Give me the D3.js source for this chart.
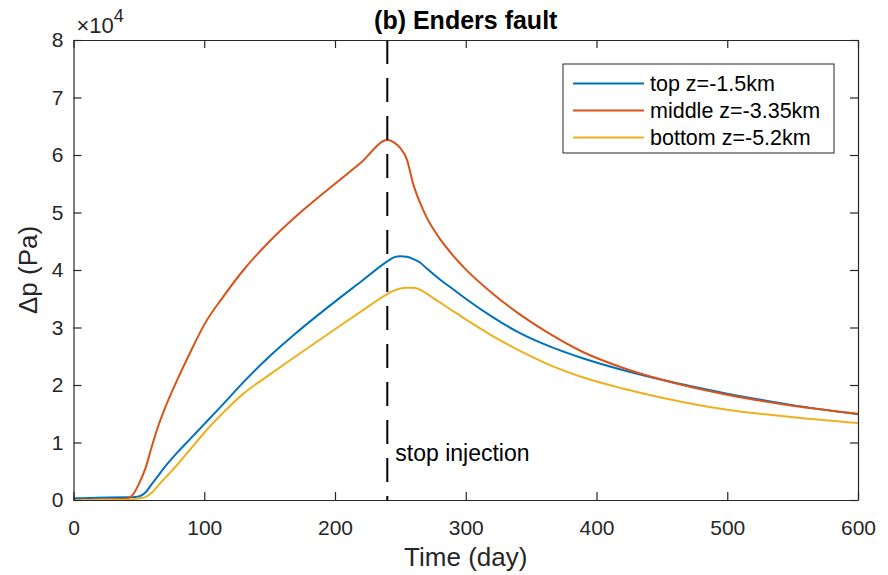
<!DOCTYPE html>
<html>
<head>
<meta charset="utf-8">
<script src="https://cdnjs.cloudflare.com/ajax/libs/d3/7.8.5/d3.min.js"></script>
<style>
    html, body { margin:0; padding:0; background:#fff; }
    svg text { font-family: "Liberation Sans", Arial, Helvetica, sans-serif; fill:#262626; }
</style>
</head>
<body>
<svg id="chart" width="888" height="575"></svg>
<script>
// days sampled along the curves
var days = [0, 40, 45, 50, 55, 60, 65, 70, 80, 90, 100, 115, 130, 150, 170, 200, 220, 240,
            245, 250, 255, 260, 265, 270, 280, 290, 300, 320, 340, 360, 390, 420, 450, 500, 550, 600];

// pressure change in Pa
var topZ = [300, 500, 500, 600, 1300, 2800, 4300, 5800, 8400, 10800, 13200, 16800, 20500, 25000, 29000, 34500, 38000, 41500,
            42200, 42400, 42300, 41900, 41300, 40300, 38400, 36700, 35000, 31900, 29200, 27100, 24600, 22600, 20900, 18500, 16500, 14900];
var middleZ = [0, 200, 800, 2800, 5500, 9400, 13000, 16000, 21200, 26000, 30500, 35500, 40000, 45000, 49300, 55000, 58700, 62600,
               62200, 61200, 59200, 54800, 51700, 49200, 45500, 42600, 40100, 36000, 32500, 29500, 25700, 23000, 20900, 18300, 16400, 15000];
var bottomZ = [0, 0, 100, 300, 500, 1300, 2600, 3800, 6300, 9000, 11700, 15300, 18500, 21800, 25000, 29700, 32800, 35800,
               36400, 36800, 36900, 36900, 36600, 35900, 34400, 32900, 31400, 28600, 26100, 23900, 21300, 19400, 17800, 15700, 14400, 13400];

var seriesNames = ["top z=-1.5km", "middle z=-3.35km", "bottom z=-5.2km"];
var seriesColors = ["#0072BD", "#D95319", "#EDB120"];
var seriesValues = [topZ, middleZ, bottomZ];

var xTicks = [0, 100, 200, 300, 400, 500, 600];
var yTicks = [0, 10000, 20000, 30000, 40000, 50000, 60000, 70000, 80000];
var stopDay = 240;

var svg = d3.select("#chart"),
    margin = {top: 40, right: 30, bottom: 75, left: 73.5},
    width = +svg.attr("width") - margin.left - margin.right,
    height = +svg.attr("height") - margin.top - margin.bottom;

var x = d3.scaleLinear().domain([0, 600]).range([0, width]);
var y = d3.scaleLinear().domain([0, 80000]).range([height, 0]);

var g = svg.append("g")
    .attr("transform", "translate(" + margin.left + "," + margin.top + ")");

// data lines
var line = d3.line()
    .curve(d3.curveMonotoneX)
    .x(function(d, i) { return x(days[i]); })
    .y(function(d) { return y(d); });

seriesValues.forEach(function(vals, k) {
    g.append("path")
        .datum(vals)
        .attr("fill", "none")
        .attr("stroke", seriesColors[k])
        .attr("stroke-width", 2)
        .attr("stroke-linejoin", "round")
        .attr("d", line);
});

// stop injection marker
g.append("line")
    .attr("x1", x(stopDay)).attr("x2", x(stopDay))
    .attr("y1", 0).attr("y2", height)
    .attr("stroke", "#000")
    .attr("stroke-width", 2)
    .attr("stroke-dasharray", "24,14");

g.append("text")
    .attr("x", x(stopDay) + 8)
    .attr("y", y(6800))
    .style("font-size", "23px")
    .style("fill", "#000")
    .text("stop injection");

// axes (box with inner ticks)
var axisCol = "#262626";
function styleAxis(sel) {
    sel.selectAll("path").attr("stroke", axisCol).attr("stroke-width", 1.2);
    sel.selectAll("line").attr("stroke", axisCol).attr("stroke-width", 1.2);
    sel.selectAll("text").style("font-size", "21px").attr("fill", axisCol);
}

g.append("g")
    .attr("transform", "translate(0," + height + ")")
    .call(d3.axisBottom(x).tickValues(xTicks).tickSizeInner(-8).tickSizeOuter(0).tickPadding(20))
    .call(styleAxis);

g.append("g")
    .call(d3.axisTop(x).tickValues(xTicks).tickSizeInner(-8).tickSizeOuter(0).tickFormat(""))
    .call(styleAxis);

g.append("g")
    .call(d3.axisLeft(y).tickValues(yTicks).tickSizeInner(-8).tickSizeOuter(0).tickPadding(10)
        .tickFormat(function(d) { return d / 10000; }))
    .call(styleAxis);

g.append("g")
    .attr("transform", "translate(" + width + ",0)")
    .call(d3.axisRight(y).tickValues(yTicks).tickSizeInner(-8).tickSizeOuter(0).tickFormat(""))
    .call(styleAxis);

g.selectAll(".domain").attr("fill", "none");

// exponent label
var expo = svg.append("text")
    .attr("x", margin.left + 3)
    .attr("y", 33)
    .style("font-size", "22px");
expo.append("tspan").text("\u00d710");
expo.append("tspan").attr("dy", -11).style("font-size", "18px").text("4");

// title and axis labels
svg.append("text")
    .attr("x", margin.left + width / 2)
    .attr("y", 29)
    .attr("text-anchor", "middle")
    .style("font-size", "25px")
    .style("font-weight", "bold")
    .style("fill", "#000")
    .text("(b) Enders fault");

svg.append("text")
    .attr("x", margin.left + width / 2)
    .attr("y", 566)
    .attr("text-anchor", "middle")
    .style("font-size", "26px")
    .text("Time (day)");

svg.append("text")
    .attr("transform", "translate(37," + (margin.top + height / 2) + ") rotate(-90)")
    .attr("text-anchor", "middle")
    .style("font-size", "26px")
    .text("\u0394p (Pa)");

// legend
var lg = svg.append("g").attr("transform", "translate(563,64)");
lg.append("rect")
    .attr("width", 271).attr("height", 89)
    .attr("fill", "#fff")
    .attr("stroke", "#262626")
    .attr("stroke-width", 1);

seriesNames.forEach(function(name, k) {
    var yy = 19.5 + k * 27;
    lg.append("line")
        .attr("x1", 10).attr("x2", 81)
        .attr("y1", yy).attr("y2", yy)
        .attr("stroke", seriesColors[k])
        .attr("stroke-width", 2);
    lg.append("text")
        .attr("x", 87)
        .attr("y", yy + 7.5)
        .style("font-size", "21.5px")
        .style("fill", "#000")
        .text(name);
});
</script>
</body>
</html>
